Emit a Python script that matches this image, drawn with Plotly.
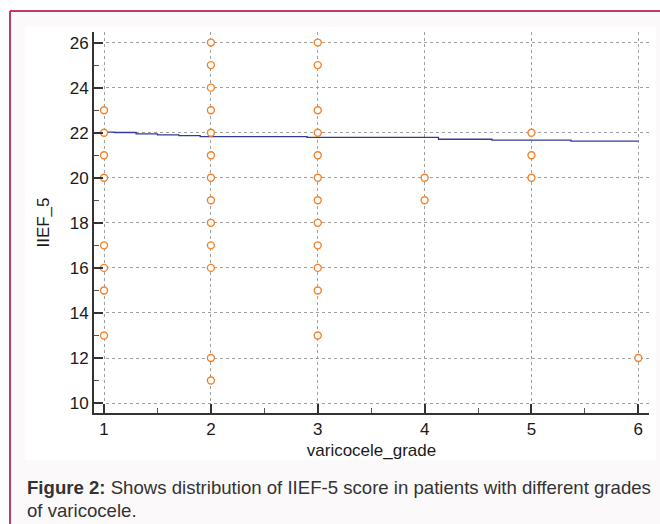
import plotly.graph_objects as go

# ---- data ----
grade_1 = [23, 22, 21, 20, 17, 16, 15, 13]
grade_2 = [26, 25, 24, 23, 22, 21, 20, 19, 18, 17, 16, 12, 11]
grade_3 = [26, 25, 23, 22, 21, 20, 19, 18, 17, 16, 15, 13]
grade_4 = [20, 19]
grade_5 = [22, 21, 20]
grade_6 = [12]
grades = [1, 2, 3, 4, 5, 6]
scores = [grade_1, grade_2, grade_3, grade_4, grade_5, grade_6]

# smoothed fit line (step-like)
fit_x = [1.0, 1.1, 1.3, 1.5, 1.7, 1.9, 2.9, 4.13, 4.63, 5.37, 6.0]
fit_y = [22.03, 22.01, 21.95, 21.90, 21.87, 21.83, 21.79, 21.71, 21.67, 21.63, 21.63]

x_ticks = [1, 2, 3, 4, 5, 6]
y_ticks = [10, 12, 14, 16, 18, 20, 22, 24, 26]

xs, ys = [], []
for g, vals in zip(grades, scores):
    for v in vals:
        xs.append(g)
        ys.append(v)

W, H = 660, 524
L, R, T, B = 94, 11, 32, 111
PW = W - L - R
PH = H - T - B


def px(x):
    return (x - L) / PW


def py(y):
    return (H - B - y) / PH


FONT = "Liberation Sans, Arial"

fig = go.Figure()
fig.add_trace(go.Scatter(
    x=fit_x, y=fit_y, mode="lines", line=dict(color="#343a9c", width=1.3, shape="hv"),
    hoverinfo="skip", showlegend=False))
fig.add_trace(go.Scatter(
    x=xs, y=ys, mode="markers",
    marker=dict(symbol="circle", size=7, color="#ffffff", line=dict(width=1.4, color="#f5822a")),
    showlegend=False))

shapes = [
    dict(type="rect", xref="paper", yref="paper", x0=px(10), x1=px(662), y0=py(11), y1=py(526),
         fillcolor="#fcf9fa", line=dict(width=0), layer="below"),
    dict(type="rect", xref="paper", yref="paper", x0=px(25), x1=px(656), y0=py(27), y1=py(460),
         fillcolor="#ffffff", line=dict(width=0), layer="below"),
    dict(type="line", xref="paper", yref="paper", x0=px(10), x1=px(662), y0=py(11), y1=py(11),
         line=dict(color="#c23a64", width=2), layer="below"),
    dict(type="line", xref="paper", yref="paper", x0=px(10), x1=px(10), y0=py(11), y1=py(526),
         line=dict(color="#c23a64", width=2), layer="below"),
]

annotations = [
    dict(text="<b>Figure 2:</b> Shows distribution of IIEF-5 score in patients with different grades",
         xref="paper", yref="paper", x=px(25), y=py(487), xanchor="left", yanchor="middle",
         showarrow=False, font=dict(family=FONT, size=18.6, color="#333333")),
    dict(text="of varicocele.",
         xref="paper", yref="paper", x=px(25), y=py(510), xanchor="left", yanchor="middle",
         showarrow=False, font=dict(family=FONT, size=18.6, color="#333333")),
]

fig.update_layout(
    width=W, height=H,
    margin=dict(l=L, r=R, t=T, b=B),
    paper_bgcolor="#ffffff",
    plot_bgcolor="rgba(0,0,0,0)",
    shapes=shapes,
    annotations=annotations,
    font=dict(family=FONT, color="#1a1a1a"),
    xaxis=dict(
        range=[0.906, 6.10], tickvals=x_ticks, ticktext=[str(t) for t in x_ticks],
        showline=True, linecolor="#333333", linewidth=2,
        ticks="inside", ticklen=9, tickwidth=2, tickcolor="#333333",
        minor=dict(dtick=0.5, tick0=0, ticks="inside", ticklen=5, tickwidth=1, tickcolor="#555555", showgrid=False),
        showgrid=True, gridcolor="#a0a0a0", gridwidth=1, griddash="3px,3px",
        zeroline=False, tickfont=dict(size=17),
        title=dict(text="varicocele_grade", font=dict(size=17), standoff=6),
    ),
    yaxis=dict(
        range=[9.56, 26.47], tickvals=y_ticks, ticktext=[str(t) for t in y_ticks],
        showline=True, linecolor="#333333", linewidth=2,
        ticks="inside", ticklen=9, tickwidth=2, tickcolor="#333333",
        minor=dict(dtick=1, tick0=0, ticks="inside", ticklen=5, tickwidth=1, tickcolor="#555555", showgrid=False),
        showgrid=True, gridcolor="#a0a0a0", gridwidth=1, griddash="3px,3px",
        zeroline=False, tickfont=dict(size=17),
        title=dict(text="IIEF_5", font=dict(size=17), standoff=16),
    ),
)

fig.write_html("out.html", config={"displayModeBar": False},
               post_script="document.body.style.margin='0px';document.body.style.overflow='hidden';")
